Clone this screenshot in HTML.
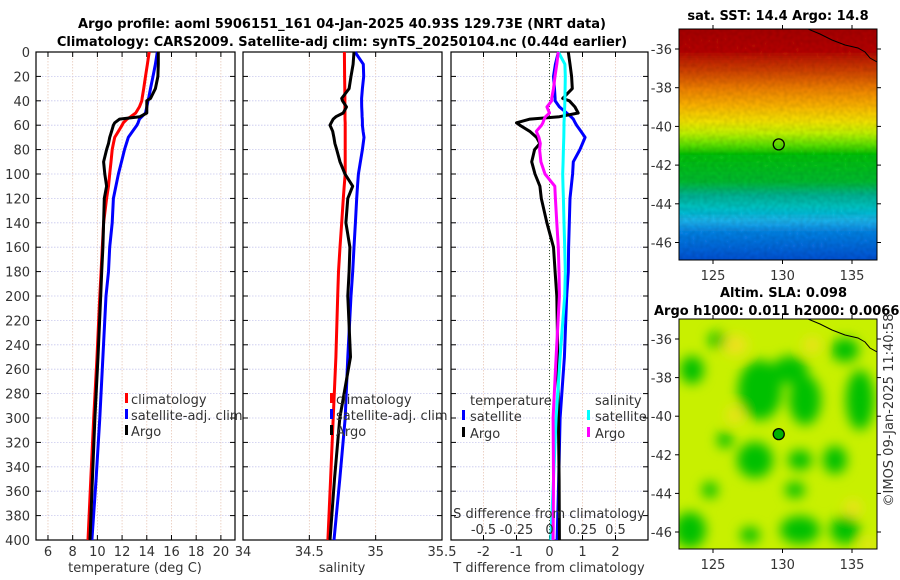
<!DOCTYPE html>
<html><head><meta charset="utf-8"><style>
html,body{margin:0;padding:0;background:#fff;width:900px;height:580px;overflow:hidden}
svg{display:block;font-family:"DejaVu Sans","Liberation Sans",sans-serif}
.tk{font-size:13px;fill:#333}
.tt{font-size:13px;font-weight:bold;fill:#000}
</style></head><body>
<svg id="chart" width="900" height="580" viewBox="0 0 900 580">
<defs>
<linearGradient id="sstg" gradientUnits="userSpaceOnUse" x1="0" y1="29" x2="0" y2="260"></linearGradient>
<filter id="noise" x="0" y="0" width="100%" height="100%">
<feTurbulence type="fractalNoise" baseFrequency="0.25" numOctaves="1" seed="3" result="t"/>
<feColorMatrix in="t" type="matrix" values="0 0 0 0 0  0 0 0 0 0  0 0 0 0 0  0 0 0 0.35 -0.1" result="n"/>
<feComposite in="n" in2="SourceGraphic" operator="in" result="nn"/>
<feMerge><feMergeNode in="SourceGraphic"/><feMergeNode in="nn"/></feMerge>
</filter>
<filter id="blur"><feGaussianBlur stdDeviation="6"/></filter>
<clipPath id="clipTop"><rect x="679" y="29" width="198" height="231"/></clipPath>
<clipPath id="clipBot"><rect x="679" y="319" width="198" height="230"/></clipPath>
</defs>
<text class="tt" x="342" y="28" text-anchor="middle">Argo profile: aoml 5906151_161 04-Jan-2025 40.93S 129.73E (NRT data)</text>
<text class="tt" x="342" y="46" text-anchor="middle">Climatology: CARS2009. Satellite-adj clim: synTS_20250104.nc (0.44d earlier)</text>
<g id="panels"></g>
<g id="maps"></g>
<text class="tk" x="0" y="0" transform="translate(893,410) rotate(-90)" text-anchor="middle">©IMOS 09-Jan-2025 11:40:58</text>
</svg>
<script>
// ---- data ----
const depths = [0,10,20,30,38,40,45,50,53,55,58,60,65,70,75,80,90,100,110,120,140,160,180,200,250,300,350,400];
const tempClim   = [14.2,14.05,13.9,13.75,13.62,13.6,13.4,13.1,12.7,12.4,12.1,12.0,11.7,11.4,11.3,11.2,11.1,11.0,10.9,10.75,10.5,10.4,10.3,10.2,9.97,9.7,9.47,9.24];
const tempSat    = [14.85,14.7,14.5,14.3,14.15,14.1,14.0,13.9,13.6,13.4,13.3,13.2,12.85,12.5,12.35,12.2,11.95,11.7,11.5,11.3,11.2,11.0,10.9,10.7,10.45,10.2,9.9,9.56];
const tempArgo   = [14.93,14.93,14.9,14.7,14.3,14.0,14.0,14.0,13.45,11.8,11.4,11.3,11.15,11.0,10.9,10.75,10.5,10.6,10.75,10.56,10.5,10.45,10.35,10.27,10.05,9.8,9.6,9.4];
const salClim    = [34.764,34.765,34.766,34.767,34.768,34.768,34.768,34.769,34.769,34.769,34.77,34.77,34.77,34.77,34.77,34.77,34.77,34.77,34.763,34.756,34.744,34.731,34.72,34.714,34.7,34.68,34.66,34.64];
const salSat     = [34.844,34.907,34.91,34.9,34.894,34.894,34.895,34.897,34.898,34.899,34.9,34.9,34.905,34.912,34.906,34.9,34.885,34.87,34.863,34.857,34.847,34.837,34.827,34.814,34.79,34.77,34.73,34.686];
const salArgo    = [34.837,34.83,34.814,34.8,34.744,34.75,34.78,34.755,34.7,34.68,34.665,34.656,34.676,34.685,34.693,34.706,34.731,34.769,34.827,34.79,34.776,34.806,34.8,34.79,34.81,34.73,34.69,34.656];
const dTArgo     = [0.57,0.62,0.67,0.69,0.4,0.6,0.77,0.87,0.3,-0.59,-1.0,-0.9,-0.6,-0.39,-0.29,-0.45,-0.54,-0.44,-0.29,-0.25,-0.08,0.12,0.17,0.22,0.25,0.27,0.29,0.3];
const dTSat      = [0.27,0.18,0.12,0.15,0.17,0.17,0.3,0.52,0.65,0.72,0.78,0.82,0.95,1.08,1.0,0.92,0.72,0.7,0.66,0.62,0.6,0.58,0.57,0.52,0.45,0.32,0.28,0.23];
const dSSat      = [0.067,0.117,0.12,0.118,0.117,0.117,0.115,0.113,0.112,0.111,0.11,0.11,0.109,0.108,0.107,0.105,0.103,0.1,0.102,0.105,0.11,0.115,0.12,0.115,0.08,0.05,0.03,0.01];
const dSArgo     = [0.067,0.055,0.042,0.03,0.017,0.017,-0.02,0.0,-0.03,-0.04,-0.05,-0.06,-0.1,-0.08,-0.07,-0.075,-0.065,-0.034,0.04,0.045,0.055,0.067,0.072,0.075,0.05,0.027,0.03,0.027];
const depthTicks = [0,20,40,60,80,100,120,140,160,180,200,220,240,260,280,300,320,340,360,380,400];
const tempTicks  = [6,8,10,12,14,16,18,20];
const salTicks   = [34,34.5,35,35.5];
const dTTicks    = [-2,-1,0,1,2];
const dSTicks    = [-0.5,-0.25,0,0.25,0.5];
const latTicks   = [-36,-38,-40,-42,-44,-46];
const lonTicks   = [125,130,135];
const argoLon = 129.73, argoLat = -40.93;

// ---- scales ----
const NS='http://www.w3.org/2000/svg';
const Y0=52, Y1=540;
const yD = d => Y0 + d*(Y1-Y0)/400;
const xT = t => 36 + (t-5.03)*12.35;
const xS = s => 243 + (s-34)*199/1.5;
const xDT = v => 549.5 + v*33;
const xDS = v => 549.5 + v*132;
const mxLon = lon => 713 + (lon-125)*13.9;
const myLatTop = lat => 49 + (-36-lat)*19.35;
const myLatBot = lat => 339 + (-36-lat)*19.3;

function mk(tag, attrs, parent){const e=document.createElementNS(NS,tag);for(const k in attrs)e.setAttribute(k,attrs[k]);parent.appendChild(e);return e;}
const panels=document.getElementById('panels');
const maps=document.getElementById('maps');

function panel(name,x0,x1,ticks,xf,labels){
  const g=mk('g',{},panels);
  
  
  ticks.forEach(t=>{const x=xf(t);
    mk('line',{x1:x,x2:x,y1:Y0,y2:Y1,stroke:'#e8c8b8','stroke-width':0.8,'stroke-dasharray':'1.5,1.5'},g);
  });
  depthTicks.forEach(d=>{
    mk('line',{x1:x0,x2:x1,y1:yD(d),y2:yD(d),stroke:'#c8c8ee','stroke-width':0.8,'stroke-dasharray':'1.5,1.5'},g);
    mk('line',{x1:x0,x2:x0+5,y1:yD(d),y2:yD(d),stroke:'#000'},g);
    mk('line',{x1:x1-5,x2:x1,y1:yD(d),y2:yD(d),stroke:'#000'},g);
  });
  ticks.forEach(t=>{const x=xf(t);
    mk('line',{x1:x,x2:x,y1:Y1,y2:Y1-5,stroke:'#000'},g);
    mk('line',{x1:x,x2:x,y1:Y0,y2:Y0+5,stroke:'#000'},g);
    if(labels){const tx=mk('text',{x:x,y:556,'text-anchor':'middle',class:'tk'},g);tx.textContent=String(t);
      
      }
  });
  mk('rect',{x:x0,y:Y0,width:x1-x0,height:Y1-Y0,fill:'none',stroke:'#000','stroke-width':1.2},g);
  return g;
}
function line(g,xs,xf,color,name,w){
  const pts=xs.map((v,i)=>xf(v).toFixed(1)+','+yD(depths[i]).toFixed(1)).join(' ');
  const p=mk('polyline',{points:pts,fill:'none',stroke:color,'stroke-width':w||3,'stroke-linejoin':'round'},g);
  
  
}
function txt(g,x,y,s,anchor,name){const t=mk('text',{x:x,y:y,class:'tk','text-anchor':anchor||'start'},g);t.textContent=s;
  
  return t;}
function legMark(g,x,y,color){mk('rect',{x:x,y:y-11,width:3,height:10,fill:color},g);}

depthTicks.forEach(d=>{const t=mk('text',{x:30,y:yD(d)+5,'text-anchor':'end',class:'tk'},panels);t.textContent=String(d);
  
  });

const p1=panel('temperature-panel',36,235,tempTicks,xT,true);
line(p1,tempClim,xT,'#f00','temp-climatology-line');
line(p1,tempSat,xT,'#00f','temp-satellite-line');
line(p1,tempArgo,xT,'#000','temp-argo-line');
legMark(p1,125,404,'#f00');txt(p1,131,404,'climatology','start','legend-climatology');
legMark(p1,125,420,'#00f');txt(p1,131,420,'satellite-adj. clim','start','legend-satellite');
legMark(p1,125,436,'#000');txt(p1,131,436,'Argo','start','legend-argo');
txt(panels,135,572,'temperature (deg C)','middle','x-axis-title-temperature');

const p2=panel('salinity-panel',243,442,salTicks,xS,true);
line(p2,salClim,xS,'#f00','sal-climatology-line');
line(p2,salSat,xS,'#00f','sal-satellite-line');
line(p2,salArgo,xS,'#000','sal-argo-line');
legMark(p2,330,404,'#f00');txt(p2,336,404,'climatology','start','legend-climatology');
legMark(p2,330,420,'#00f');txt(p2,336,420,'satellite-adj. clim','start','legend-satellite');
legMark(p2,330,436,'#000');txt(p2,336,436,'Argo','start','legend-argo');
txt(panels,342,572,'salinity','middle','x-axis-title-salinity');

const p3=panel('difference-panel',451,648,dTTicks,xDT,true);
mk('line',{x1:xDT(0),x2:xDT(0),y1:Y0,y2:Y1,stroke:'#353','stroke-width':1,'stroke-dasharray':'1,2'},p3);
line(p3,dTSat,xDT,'#00f','dT-satellite-line');
line(p3,dTArgo,xDT,'#000','dT-argo-line');
line(p3,dSSat,xDS,'#0ff','dS-satellite-line');
line(p3,dSArgo,xDS,'#f0f','dS-argo-line');
txt(p3,470,405,'temperature','start','legend-temperature-header');
legMark(p3,462,421,'#00f');txt(p3,470,421,'satellite','start','legend-t-satellite');
legMark(p3,462,438,'#000');txt(p3,470,438,'Argo','start','legend-t-argo');
txt(p3,595,405,'salinity','start','legend-salinity-header');
legMark(p3,587,421,'#0ff');txt(p3,595,421,'satellite','start','legend-s-satellite');
legMark(p3,587,438,'#f0f');txt(p3,595,438,'Argo','start','legend-s-argo');
txt(p3,549,518,'S difference from climatology','middle','s-axis-title');
dSTicks.forEach(v=>{txt(p3,xDS(v),534,String(v),'middle','s-tick-label');});
txt(panels,549,572,'T difference from climatology','middle','x-axis-title-tdiff');

// ---- maps ----
function mapFrame(name){
  const g=mk('g',{},maps);
  
  
  return g;
}
function mapAxes(g,y0,y1,latf){
  mk('rect',{x:679,y:y0,width:198,height:y1-y0,fill:'none',stroke:'#000','stroke-width':1},g);
  latTicks.forEach(l=>{const y=latf(l);
    mk('line',{x1:679,x2:675,y1:y,y2:y,stroke:'#000'},g);
    mk('line',{x1:877,x2:881,y1:y,y2:y,stroke:'#000'},g);
    txt(g,672,y+5,String(l),'end','lat-tick-label');});
  lonTicks.forEach(l=>{const x=mxLon(l);
    mk('line',{x1:x,x2:x,y1:y0,y2:y0-4,stroke:'#000'},g);
    mk('line',{x1:x,x2:x,y1:y1,y2:y1+4,stroke:'#000'},g);
    txt(g,x,y1+20,String(l),'middle','lon-tick-label');});
}
const m1=mapFrame('sst-map');
const sstStops=[['0','#a50000'],['0.1','#b41000'],['0.18','#cc4000'],['0.26','#ec8000'],['0.33','#f8b000'],['0.4','#f0e000'],['0.45','#c0f000'],['0.5','#60e000'],['0.54','#10c010'],['0.66','#00b830'],['0.72','#00b090'],['0.77','#00c0c0'],['0.83','#20b0e8'],['0.88','#1080e0'],['1','#0050d0']];
const lg=document.getElementById('sstg');
sstStops.forEach(s=>mk('stop',{offset:s[0],'stop-color':s[1]},lg));
const cg=mk('g',{'clip-path':'url(#clipTop)'},m1);
mk('rect',{x:679,y:29,width:198,height:231,fill:'url(#sstg)',filter:'url(#noise)'},cg);
mk('path',{d:'M808,29 L820,34 L832,40 L845,45 L858,48 L865,52 L870,58 L877,62',fill:'none',stroke:'#000','stroke-width':1},cg);
const c1=mk('circle',{cx:mxLon(argoLon),cy:myLatTop(argoLat),r:5.5,fill:'none',stroke:'#000','stroke-width':1.3},m1);


mapAxes(m1,29,260,myLatTop);
txt(m1,778,20,'sat. SST: 14.4 Argo: 14.8','middle','sst-map-title').setAttribute('class','tt');

const m2=mapFrame('sla-map');
const cg2=mk('g',{'clip-path':'url(#clipBot)'},m2);
mk('rect',{x:679,y:319,width:198,height:230,fill:'#c8f000'},cg2);
const blobs=[[692,370,12,14],[718,340,10,8],[760,390,22,30],[790,370,18,14],[805,400,16,25],[845,350,14,12],[860,400,14,30],[755,460,18,18],[795,490,10,8],[800,460,12,10],[835,460,12,14],[800,530,20,14],[845,530,15,14],[690,530,16,18],[725,440,8,8],[710,490,8,8],[750,535,10,8],[830,575,10,10]];
const bg=mk('g',{filter:'url(#blur)'},cg2);
blobs.forEach(b=>mk('ellipse',{cx:b[0],cy:b[1],rx:b[2],ry:b[3],fill:'#00c000'},bg));
const yb=[[735,345,12,10],[812,345,8,8],[735,415,8,8],[853,508,8,8],[868,545,6,6]];
yb.forEach(b=>mk('ellipse',{cx:b[0],cy:b[1],rx:b[2],ry:b[3],fill:'#f0e020'},bg));
mk('path',{d:'M808,319 L820,324 L832,330 L845,335 L858,338 L865,342 L870,348 L877,352',fill:'none',stroke:'#000','stroke-width':1},cg2);
const c2=mk('circle',{cx:mxLon(argoLon),cy:myLatBot(argoLat),r:5.5,fill:'#00b000',stroke:'#000','stroke-width':1.3},m2);


mapAxes(m2,319,549,myLatBot);
txt(m2,720,297,'Altim. SLA: 0.098','start','sla-map-title').setAttribute('class','tt');
txt(m2,654,315,'Argo h1000: 0.011 h2000: 0.0066','start','sla-map-subtitle').setAttribute('class','tt');
</script>
</body></html>
